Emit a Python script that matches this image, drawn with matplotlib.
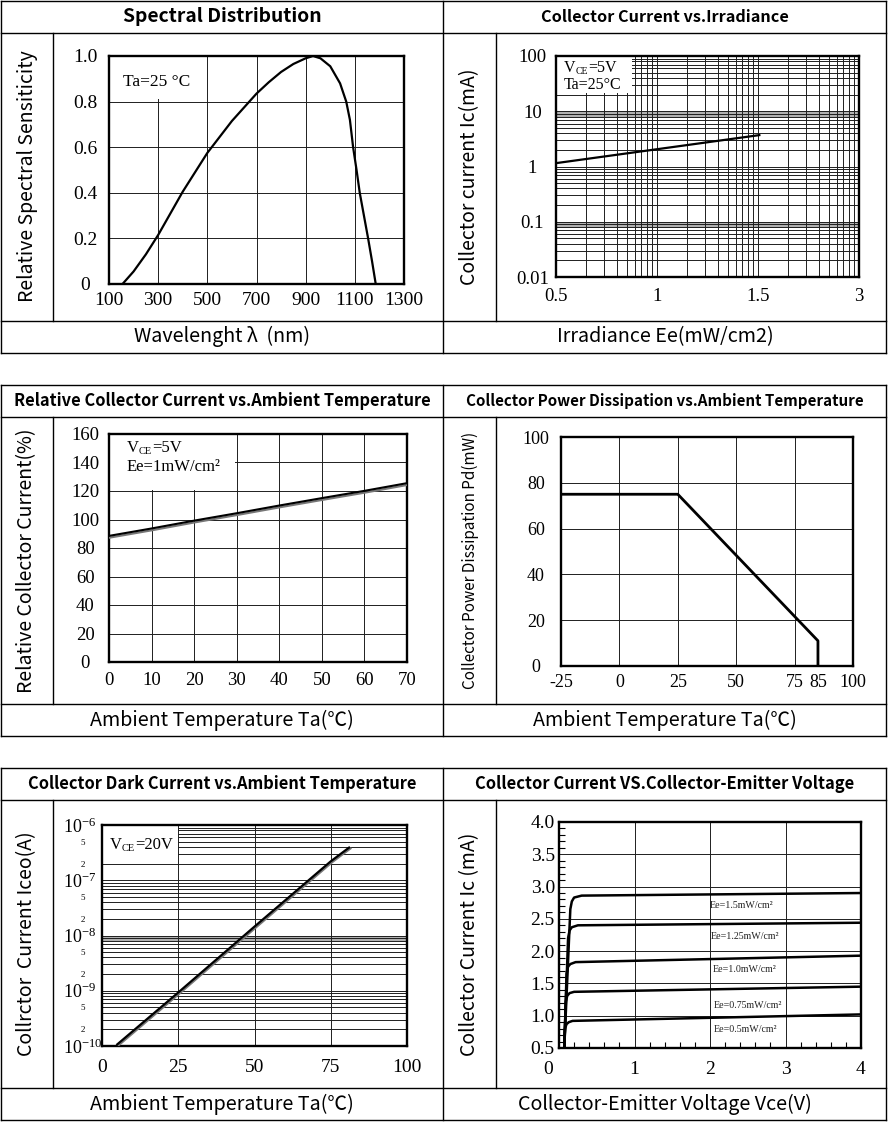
import numpy as np
import matplotlib.pyplot as plt
from matplotlib.lines import Line2D
from matplotlib.patches import Rectangle
from matplotlib.ticker import NullLocator, MultipleLocator
from matplotlib.transforms import ScaledTranslation
import matplotlib.patheffects as pe

plt.rcParams['font.family'] = ['Liberation Serif', 'DejaVu Serif']
plt.rcParams['mathtext.fontset'] = 'custom'
plt.rcParams['mathtext.rm'] = 'Liberation Serif'
plt.rcParams['mathtext.it'] = 'Liberation Serif:italic'
SANS = ['Noto Sans CJK SC', 'DejaVu Sans']

W, H = 888, 1122
GRID = '#1e1e1e'

# ---- data ----
# spectral distribution
wavelength = [155, 200, 250, 300, 350, 400, 450, 500, 550, 600, 650, 700, 750,
              800, 850, 900, 930, 960, 1000, 1040, 1065, 1080, 1093, 1107, 1120,
              1137, 1154, 1170, 1185]
sensitivity = [0.0, 0.055, 0.13, 0.215, 0.31, 0.405, 0.49, 0.575, 0.645, 0.715, 0.775,
               0.835, 0.885, 0.93, 0.965, 0.99, 1.0, 0.99, 0.955, 0.88, 0.80, 0.72,
               0.60, 0.50, 0.40, 0.30, 0.20, 0.10, 0.0]
spec_xticks = [100, 300, 500, 700, 900, 1100, 1300]
spec_yticks = [0, 0.2, 0.4, 0.6, 0.8, 1.0]
spec_ylabels = ['0', '0.2', '0.4', '0.6', '0.8', '1.0']

# collector current vs irradiance (log paper, labels on decade lines)
irr_ticks = [0.5, 1, 1.5, 3]
irradiance = [0.5, 1.52]
ic_irr = [1.15, 3.7]
ic_ticks = [0.01, 0.1, 1, 10, 100]
ic_labels = ['0.01', '0.1', '1', '10', '100']

# relative collector current vs ambient temperature
temp_rel = [0, 10, 20, 30, 40, 50, 60, 70]
rel_current = [88.5, 93.7, 99.2, 104.4, 109.8, 115.0, 120.1, 125.5]

# collector power dissipation vs ambient temperature
temp_pd = [-25, 25, 85, 85]
power_pd = [75, 75, 11, 1]
pd_xticks = [-25, 0, 25, 50, 75, 85, 100]

# collector dark current vs ambient temperature
temp_dark = [5, 25, 50, 75, 81]
iceo = [1.07e-10, 9.3e-10, 1.45e-8, 2.2e-7, 3.9e-7]
dark_major = [1e-10, 1e-9, 1e-8, 1e-7, 1e-6]
dark_major_labels = [r'$\mathregular{10^{-10}}$', r'$\mathregular{10^{-9}}$',
                     r'$\mathregular{10^{-8}}$', r'$\mathregular{10^{-7}}$',
                     r'$\mathregular{10^{-6}}$']
dark_minor = [2e-10, 5e-10, 2e-9, 5e-9, 2e-8, 5e-8, 2e-7, 5e-7]
dark_minor_labels = ['2', '5', '2', '5', '2', '5', '2', '5']

# collector current vs collector-emitter voltage
ee_labels = ['Ee=1.5mW/cm²', 'Ee=1.25mW/cm²', 'Ee=1.0mW/cm²',
             'Ee=0.75mW/cm²', 'Ee=0.5mW/cm²']
vce_15 = [0.07, 0.15, 0.17, 0.20, 0.30, 4.0]
ic_15 = [0.5, 2.65, 2.77, 2.83, 2.86, 2.90]
vce_125 = [0.07, 0.12, 0.14, 0.17, 0.25, 4.0]
ic_125 = [0.5, 2.20, 2.32, 2.37, 2.40, 2.44]
vce_10 = [0.07, 0.10, 0.12, 0.15, 0.22, 4.0]
ic_10 = [0.5, 1.65, 1.76, 1.80, 1.83, 1.93]
vce_075 = [0.07, 0.09, 0.11, 0.14, 0.20, 4.0]
ic_075 = [0.5, 1.22, 1.31, 1.35, 1.37, 1.45]
vce_05 = [0.07, 0.08, 0.10, 0.13, 0.18, 4.0]
ic_05 = [0.5, 0.80, 0.87, 0.90, 0.92, 1.02]
ee_label_x = [1.99, 2.01, 2.03, 2.05, 2.05]
ee_label_y = [2.70, 2.23, 1.71, 1.16, 0.79]

titles = [("Spectral Distribution", "Collector Current vs.Irradiance"),
          ("Relative Collector Current vs.Ambient Temperature",
           "Collector Power Dissipation vs.Ambient Temperature"),
          ("Collector Dark Current vs.Ambient Temperature",
           "Collector Current VS.Collector-Emitter Voltage")]
title_sizes = [(13.9, 11.7), (11.8, 10.9), (11.8, 11.9)]
xlabels = [("Wavelenght λ  (nm)", "Irradiance Ee(mW/cm2)"),
           ("Ambient Temperature Ta(℃)", "Ambient Temperature Ta(℃)"),
           ("Ambient Temperature Ta(℃)", "Collector-Emitter Voltage Vce(V)")]
ylabels = [("Relative Spectral Sensiticity", "Collector current Ic(mA)"),
           ("Relative Collector Current(%)", "Collector Power Dissipation Pd(mW)"),
           ("Collrctor  Current Iceo(A)", "Collector Current Ic (mA)")]
ylabel_sizes = [(14, 14), (14, 11), (14, 14)]

fig = plt.figure(figsize=(W / 100, H / 100), dpi=100)


def fx(px):
    return px / W


def fy(py):
    return 1 - py / H


def table_line(x0, y0, x1, y1, lw=1.0):
    fig.add_artist(Line2D([fx(x0), fx(x1)], [fy(y0), fy(y1)], color='black', lw=lw))


def new_axes(box):
    l, t, r, b = box
    ax = fig.add_axes([fx(l), fy(b), (r - l) / W, (b - t) / H])
    for sp in ax.spines.values():
        sp.set_linewidth(1.7)
        sp.set_color('black')
    ax.tick_params(length=0)
    return ax


def vce_text(ax, x, y, rest, size):
    t1 = ax.text(x, y, 'V', transform=ax.transAxes, size=size, va='baseline', zorder=4)
    t2 = ax.annotate('CE', xy=(1, 0), xycoords=t1, va='bottom', size=size * 0.62, zorder=4)
    t3 = ax.annotate(rest, xy=(1, 0), xycoords=t2, va='bottom', size=size, zorder=4)
    return t3


# ---- table frame ----
block_rows = [(1, 32.5, 320.5, 352.5), (385, 417, 704, 736), (768, 800, 1088, 1120)]
for i, (top, tb, bt, bottom) in enumerate(block_rows):
    for yy in (top, tb, bt, bottom):
        table_line(1, yy, 886, yy)
    table_line(1, top, 1, bottom)
    table_line(886, top, 886, bottom)
    table_line(443, top, 443, bottom)
    table_line(53, tb, 53, bt)
    table_line(496, tb, 496, bt)
    for j, cx in enumerate([222, 665]):
        fig.text(fx(cx), fy((top + tb) / 2), titles[i][j], ha='center', va='center',
                 family=SANS, weight='bold', size=title_sizes[i][j])
        fig.text(fx(cx), fy((bt + bottom) / 2), xlabels[i][j], ha='center', va='center',
                 family=SANS, size=14.2)
        fig.text(fx([27, 470][j]), fy((tb + bt) / 2), ylabels[i][j], ha='center',
                 va='center', rotation=90, family=SANS, size=ylabel_sizes[i][j])

# ---- spectral distribution ----
ax = new_axes((109, 56, 404, 284))
ax.plot(wavelength, sensitivity, color='black', lw=1.6, zorder=3, solid_joinstyle='round')
ax.set_xlim(100, 1300)
ax.set_ylim(0, 1.0)
ax.set_xticks(spec_xticks, [str(v) for v in spec_xticks])
ax.set_yticks(spec_yticks, spec_ylabels)
ax.grid(color=GRID, lw=0.7)
ax.set_axisbelow(True)
ax.add_patch(Rectangle((100, 0.81), 202, 0.19, fc='white', ec='none', zorder=1))
ax.text(0.046, 0.868, 'Ta=25 °C', transform=ax.transAxes, size=12.5, zorder=4)
ax.tick_params(labelsize=14)
ax.tick_params(axis='x', pad=6)
ax.tick_params(axis='y', pad=17)
plt.setp(ax.get_yticklabels(), ha='center')

# ---- collector current vs irradiance ----
def irr_to_paper(v):
    return 10 ** np.interp(v, irr_ticks, np.arange(len(irr_ticks)))


ax = new_axes((556, 56, 859, 277))
ax.set_xscale('log')
ax.set_yscale('log')
ax.set_xlim(1, 1000)
ax.set_ylim(0.01, 100)
for d in range(3):
    for k in range(1, 10):
        ax.axvline(k * 10.0 ** d, color=GRID, lw=0.7, zorder=0.5)
for d in range(-2, 2):
    for k in range(1, 10):
        ax.axhline(k * 10.0 ** d, color=GRID, lw=0.7, zorder=0.5)
ax.axhspan(7.8, 9.9, fc='#b0b0b0', ec='none', zorder=0.4)
ax.axhspan(0.078, 0.099, fc='#b0b0b0', ec='none', zorder=0.4)
ax.add_patch(Rectangle((1, 21), 4.6, 79, fc='white', ec='none', zorder=1))
ax.plot(irr_to_paper(irradiance), ic_irr, color='black', lw=1.6, zorder=3)
ax.set_xticks(irr_to_paper(irr_ticks), [str(v) for v in irr_ticks])
ax.xaxis.set_minor_locator(NullLocator())
ax.set_yticks(ic_ticks, ic_labels)
ax.yaxis.set_minor_locator(NullLocator())
vce_text(ax, 0.026, 0.929, '=5V', 11.5)
ax.text(0.026, 0.85, 'Ta=25°C', transform=ax.transAxes, size=11.5, zorder=4)
ax.tick_params(labelsize=13.5)
ax.tick_params(axis='x', pad=8)
ax.tick_params(axis='y', pad=17)
plt.setp(ax.get_yticklabels(), ha='center')

# ---- relative collector current vs temperature ----
ax = new_axes((109, 434, 407, 662))
ax.set_xlim(0, 70)
ax.set_ylim(0, 160)
ax.set_xticks(range(0, 71, 10))
ax.set_yticks(range(0, 161, 20))
ax.grid(color=GRID, lw=0.7)
ax.set_axisbelow(True)
ax.add_patch(Rectangle((0, 121), 29.5, 39, fc='white', ec='none', zorder=1))
ax.plot(temp_rel, rel_current, color='black', lw=1.5, zorder=3,
        path_effects=[pe.SimpleLineShadow(offset=(0.3, -1.3), shadow_color='#777777', alpha=1),
                      pe.Normal()])
vce_text(ax, 0.06, 0.922, '=5V', 12)
ax.text(0.06, 0.838, 'Ee=1mW/cm²', transform=ax.transAxes, size=12, zorder=4)
ax.tick_params(labelsize=13.5)
ax.tick_params(axis='x', pad=7)
ax.tick_params(axis='y', pad=17)
plt.setp(ax.get_yticklabels(), ha='center')

# ---- power dissipation vs temperature ----
ax = new_axes((561, 437, 853, 666))
ax.set_xlim(-25, 100)
ax.set_ylim(0, 100)
for xv in (0, 25, 50, 75):
    ax.axvline(xv, color=GRID, lw=0.7, zorder=0.5)
for yv in (20, 40, 60, 80):
    ax.axhline(yv, color=GRID, lw=0.7, zorder=0.5)
ax.plot(temp_pd, power_pd, color='black', lw=2.0, zorder=3)
ax.set_xticks(pd_xticks, [str(v) for v in pd_xticks])
ax.set_yticks(range(0, 101, 20))
ax.tick_params(labelsize=13)
ax.tick_params(axis='x', pad=5.5)
ax.tick_params(axis='y', pad=18)
plt.setp(ax.get_yticklabels(), ha='center')

# ---- dark current vs temperature ----
ax = new_axes((102, 825, 407, 1046))
ax.set_yscale('log')
ax.set_xlim(0, 100)
ax.set_ylim(1e-10, 1e-6)
for xv in (25, 50, 75):
    ax.axvline(xv, color=GRID, lw=0.7, zorder=0.5)
for d in range(-10, -6):
    for k in range(1, 10):
        ax.axhline(k * 10.0 ** d, color=GRID, lw=0.7, zorder=0.5)
ax.axhspan(8e-9, 9.9e-9, fc='#b0b0b0', ec='none', zorder=0.4)
ax.add_patch(Rectangle((0, 2.1e-7), 24.8, 1e-6 - 2.1e-7, fc='white', ec='none', zorder=1))
ax.plot(temp_dark, iceo, color='black', lw=1.6, zorder=3,
        path_effects=[pe.SimpleLineShadow(offset=(1.0, -0.6), shadow_color='#777777', alpha=1),
                      pe.Normal()])
vce_text(ax, 0.026, 0.891, '=20V', 12)
ax.set_xticks([0, 25, 50, 75, 100])
ax.set_yticks(dark_major, dark_major_labels)
ax.set_yticks(dark_minor, dark_minor_labels, minor=True)
ax.tick_params(which='both', length=0)
ax.tick_params(axis='x', labelsize=14, pad=9)
ax.tick_params(axis='y', which='major', labelsize=13, pad=28)
ax.tick_params(axis='y', which='minor', labelsize=6.5, pad=14)
plt.setp(ax.get_yticklabels(), ha='left')
plt.setp(ax.get_yticklabels(minor=True), ha='center')

# ---- collector current vs collector-emitter voltage ----
ax = new_axes((559, 822, 861, 1048))
ax.set_xlim(0, 4)
ax.set_ylim(0.5, 4.0)
for xv in (1, 2, 3):
    ax.axvline(xv, color=GRID, lw=0.7, zorder=0.5)
for yv in (1.0, 1.5, 2.0, 2.5, 3.0, 3.5):
    ax.axhline(yv, color=GRID, lw=0.7, zorder=0.5)
for vv, ii in [(vce_15, ic_15), (vce_125, ic_125), (vce_10, ic_10),
               (vce_075, ic_075), (vce_05, ic_05)]:
    ax.plot(vv, ii, color='black', lw=1.8, zorder=3, solid_joinstyle='round')
for lx, ly, lab in zip(ee_label_x, ee_label_y, ee_labels):
    ax.text(lx, ly, lab, size=7.2, va='center', color='#222222', zorder=4)
ax.set_xticks([0, 1, 2, 3, 4])
ax.set_yticks([0.5, 1.0, 1.5, 2.0, 2.5, 3.0, 3.5, 4.0])
ax.xaxis.set_minor_locator(MultipleLocator(0.2))
ax.yaxis.set_minor_locator(MultipleLocator(0.1))
ax.tick_params(which='minor', direction='in', length=4, width=0.8)
ax.tick_params(axis='x', labelsize=14, pad=9)
ax.tick_params(axis='y', labelsize=14, pad=3)
# the "0" label sits left of the axis corner in the original
zero_lbl = ax.xaxis.get_major_ticks()[0].label1
zero_lbl.set_transform(zero_lbl.get_transform() + ScaledTranslation(-0.11, 0, fig.dpi_scale_trans))

fig.savefig('out.png', dpi=100, facecolor='white')
